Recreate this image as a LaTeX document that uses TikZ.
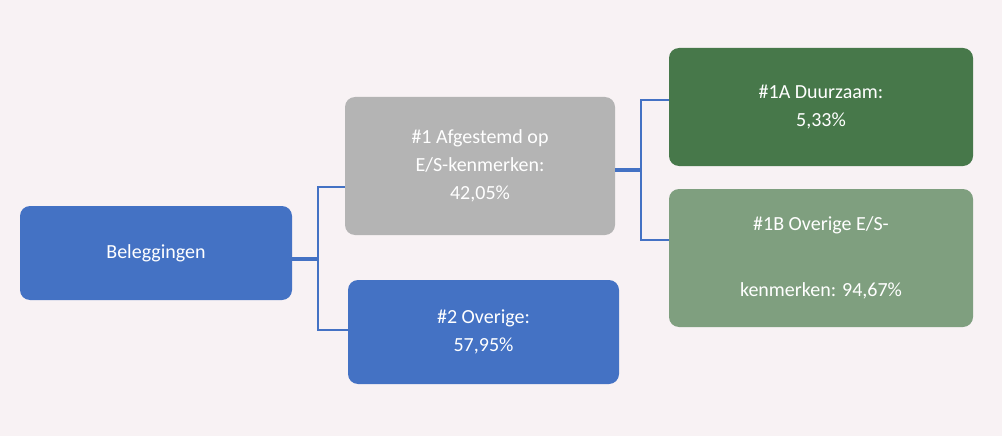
\documentclass[tikz,border=0pt]{standalone}
\usepackage{fontspec}
\setmainfont{Carlito}
\definecolor{bg}{HTML}{F8F2F4}
\definecolor{bl}{HTML}{4472C4}
\definecolor{gr}{HTML}{B4B4B4}
\definecolor{dg}{HTML}{47784A}
\definecolor{lg}{HTML}{7F9F7F}
\begin{document}
\begin{tikzpicture}[x=1pt,y=-1pt,
 box/.style={rounded corners=10pt,text=white,align=center,font=\fontsize{20}{28}\selectfont,inner sep=0pt},
 conn/.style={draw=bl,line width=2.5pt}]
\fill[bg] (0,0) rectangle (1002,436);
\useasboundingbox (0,0) rectangle (1002,436);
\node[box,fill=bl,minimum width=272pt,minimum height=94pt] (b) at (156,253) {Beleggingen};
\node[box,fill=gr,minimum width=270pt,minimum height=138pt] (n1) at (480,166) {\#1 Afgestemd op\\E/S-kenmerken:\\42,05\%};
\node[box,fill=bl,minimum width=271pt,minimum height=104pt] (n2) at (483.5,332) {\#2 Overige:\\57,95\%};
\node[box,fill=dg,minimum width=304pt,minimum height=118pt] (a) at (821,107) {\#1A Duurzaam:\\5,33\%};
\node[box,fill=lg,minimum width=304pt,minimum height=138pt] (c) at (821,258) {\#1B Overige E/S-\\[38pt]kenmerken: 94,67\%};
\coordinate (j1) at (318,259);
\coordinate (j2) at (641,170);
\draw[conn,line width=4pt] (b.east |- j1) -- (j1);
\draw[conn] (n1.west |- 0,187) -| (318,330) -- (n2.west |- 0,330);
\draw[conn,line width=4pt] (n1.east |- j2) -- (j2);
\draw[conn] (a.west |- 0,100) -| (641,240) -- (c.west |- 0,240);
\end{tikzpicture}
\end{document}
